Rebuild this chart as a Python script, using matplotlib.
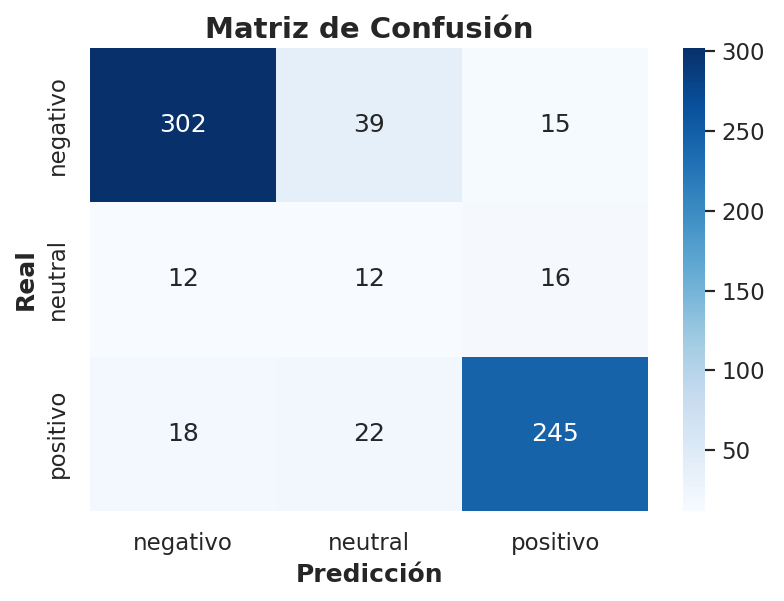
import matplotlib
matplotlib.use("Agg")
import matplotlib.pyplot as plt
import seaborn as sns
import numpy as np

labels = ["negativo", "neutral", "positivo"]
row_negativo = [302, 39, 15]
row_neutral = [12, 12, 16]
row_positivo = [18, 22, 245]

cm = np.array([row_negativo, row_neutral, row_positivo])

sns.set_theme(style="white", font_scale=1.2)

fig = plt.figure(figsize=(6.272, 4.808), dpi=125)
ax = fig.add_axes([0.115, 0.150, 0.712, 0.770])
cax = fig.add_axes([0.871, 0.150, 0.028, 0.770])
sns.heatmap(cm, annot=True, fmt="d", cmap="Blues",
            xticklabels=labels, yticklabels=labels, ax=ax, cbar_ax=cax)
ax.tick_params(axis="both", pad=6)
ax.set_title("Matriz de Confusión", fontsize=16.8, fontweight="bold")
ax.set_xlabel("Predicción", fontweight="bold", labelpad=5)
ax.set_ylabel("Real", fontweight="bold", labelpad=5)
plt.savefig("out.png", dpi=125)
plt.close()
